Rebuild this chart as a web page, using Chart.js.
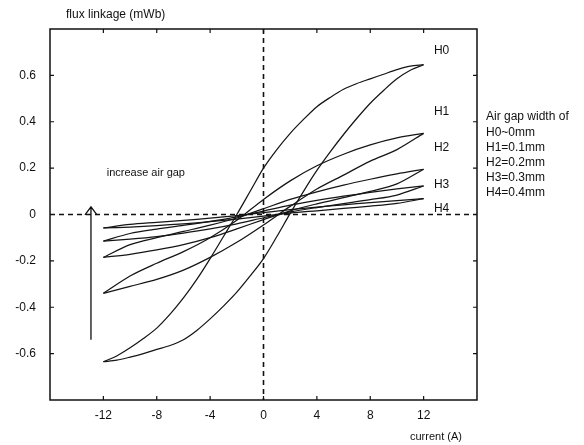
<!DOCTYPE html>
<html lang="en">
<head>
    <meta charset="UTF-8">
    <title>Flux linkage vs current</title>
    <script src="https://cdn.jsdelivr.net/npm/chart.js"></script>
    <style>
        body { margin: 0; background: #fff; }
        #wrap { width: 584px; height: 445px; }
    </style>
</head>
<body>
    <div id="wrap"><canvas id="loops"></canvas></div>

    <script>
        // current (A) grid for H0 (finer) and for the other loops
        const currentH0 = [-12, -11, -10, -9, -8, -7, -6, -5, -4, -3, -2, -1, 0, 1, 2, 3, 4, 5, 6, 7, 8, 9, 10, 11, 12];
        const current = [-12, -10, -8, -6, -4, -2, 0, 2, 4, 6, 8, 10, 12];

        // flux linkage (mWb), rising = current going up, falling = current going down
        const h0Rising = [-0.635, -0.628, -0.615, -0.6, -0.582, -0.565, -0.54, -0.5, -0.45, -0.395, -0.335, -0.265, -0.19, -0.095, 0.005, 0.1, 0.19, 0.27, 0.345, 0.415, 0.48, 0.535, 0.585, 0.622, 0.646];
        const h0Falling = [-0.635, -0.61, -0.575, -0.535, -0.49, -0.43, -0.36, -0.28, -0.19, -0.095, 0.0, 0.1, 0.2, 0.28, 0.35, 0.41, 0.465, 0.505, 0.54, 0.565, 0.585, 0.605, 0.625, 0.64, 0.646];

        const h1Rising = [-0.34, -0.31, -0.28, -0.24, -0.185, -0.12, -0.045, 0.035, 0.11, 0.17, 0.23, 0.28, 0.35];
        const h1Falling = [-0.34, -0.265, -0.21, -0.16, -0.1, -0.025, 0.065, 0.145, 0.21, 0.26, 0.3, 0.33, 0.35];

        const h2Rising = [-0.185, -0.172, -0.153, -0.13, -0.1, -0.062, -0.022, 0.016, 0.046, 0.073, 0.1, 0.132, 0.195];
        const h2Falling = [-0.185, -0.13, -0.1, -0.073, -0.046, -0.015, 0.025, 0.065, 0.098, 0.127, 0.152, 0.175, 0.195];

        const h3Rising = [-0.115, -0.106, -0.095, -0.08, -0.062, -0.04, -0.014, 0.011, 0.03, 0.047, 0.064, 0.084, 0.123];
        const h3Falling = [-0.115, -0.082, -0.063, -0.047, -0.03, -0.01, 0.015, 0.04, 0.061, 0.079, 0.095, 0.11, 0.123];

        const h4Rising = [-0.058, -0.054, -0.048, -0.04, -0.031, -0.02, -0.007, 0.006, 0.016, 0.026, 0.036, 0.048, 0.068];
        const h4Falling = [-0.058, -0.043, -0.034, -0.025, -0.016, -0.005, 0.008, 0.021, 0.032, 0.042, 0.051, 0.06, 0.068];

        // axis ticks
        const xTicks = [-12, -8, -4, 0, 4, 8, 12];
        const yTicks = [-0.6, -0.4, -0.2, 0, 0.2, 0.4, 0.6];

        // texts
        const loopNames = ['H0', 'H1', 'H2', 'H3', 'H4'];
        const gapLines = ['Air gap width of', 'H0~0mm', 'H1=0.1mm', 'H2=0.2mm', 'H3=0.3mm', 'H4=0.4mm'];

        function toPoints(xs, ys) {
            return xs.map((x, i) => ({ x: x, y: ys[i] }));
        }

        function branch(xs, ys) {
            return {
                data: toPoints(xs, ys),
                showLine: true,
                borderColor: '#151515',
                borderWidth: 1.25,
                pointRadius: 0,
                tension: 0.3,
                fill: false
            };
        }

        const datasets = [
            branch(currentH0, h0Rising), branch(currentH0, h0Falling),
            branch(current, h1Rising), branch(current, h1Falling),
            branch(current, h2Rising), branch(current, h2Falling),
            branch(current, h3Rising), branch(current, h3Falling),
            branch(current, h4Rising), branch(current, h4Falling)
        ];

        // frame, dashed axes, inward ticks and all the free text
        const extras = {
            id: 'extras',
            afterDraw(chart) {
                const ctx = chart.ctx;
                const a = chart.chartArea;
                const sx = chart.scales.x;
                const sy = chart.scales.y;
                ctx.save();
                ctx.strokeStyle = '#111';
                ctx.fillStyle = '#111';

                // dashed zero lines
                ctx.lineWidth = 1.6;
                ctx.setLineDash([5, 4]);
                const x0 = sx.getPixelForValue(0);
                const y0 = sy.getPixelForValue(0);
                ctx.beginPath();
                ctx.moveTo(x0, a.top);
                ctx.lineTo(x0, a.bottom);
                ctx.moveTo(a.left, y0);
                ctx.lineTo(a.right, y0);
                ctx.stroke();
                ctx.setLineDash([]);

                // frame
                ctx.lineWidth = 1.5;
                ctx.strokeRect(a.left, a.top, a.right - a.left, a.bottom - a.top);

                // inward tick marks
                ctx.lineWidth = 1.2;
                ctx.beginPath();
                xTicks.forEach(v => {
                    const px = sx.getPixelForValue(v);
                    ctx.moveTo(px, a.bottom); ctx.lineTo(px, a.bottom - 4);
                    ctx.moveTo(px, a.top); ctx.lineTo(px, a.top + 4);
                });
                yTicks.forEach(v => {
                    const py = sy.getPixelForValue(v);
                    ctx.moveTo(a.left, py); ctx.lineTo(a.left + 4, py);
                    ctx.moveTo(a.right, py); ctx.lineTo(a.right - 4, py);
                });
                ctx.stroke();

                // arrow "increase air gap"
                const ax = sx.getPixelForValue(-12.93);
                const ayTop = sy.getPixelForValue(0.033);
                const ayBot = sy.getPixelForValue(-0.54);
                ctx.lineWidth = 1.3;
                ctx.beginPath();
                ctx.moveTo(ax, ayBot);
                ctx.lineTo(ax, ayTop);
                ctx.moveTo(ax - 6, ayTop + 8);
                ctx.lineTo(ax, ayTop);
                ctx.lineTo(ax + 6, ayTop + 8);
                ctx.stroke();

                // axis titles
                ctx.textBaseline = 'middle';
                ctx.textAlign = 'left';
                ctx.font = '12px "Liberation Sans", Arial, sans-serif';
                ctx.fillText('flux linkage (mWb)', 66, 15);
                ctx.font = '11px "Liberation Sans", Arial, sans-serif';
                ctx.fillText('current (A)', 410, 437);
                ctx.fillText('increase air gap', sx.getPixelForValue(-11.75), sy.getPixelForValue(0.177));

                // loop names next to the right tips
                ctx.font = '12px "Liberation Sans", Arial, sans-serif';
                const nameY = [0.705, 0.445, 0.286, 0.13, 0.026];
                loopNames.forEach((t, i) => {
                    ctx.fillText(t, sx.getPixelForValue(12.77), sy.getPixelForValue(nameY[i]));
                });

                // air gap key at the right
                gapLines.forEach((t, i) => {
                    ctx.fillText(t, 486, 117 + i * 15.2);
                });
                ctx.restore();
            }
        };

        new Chart(document.getElementById('loops'), {
            type: 'scatter',
            data: { datasets: datasets },
            options: {
                responsive: true,
                maintainAspectRatio: false,
                animation: false,
                layout: { padding: { top: 29, right: 107, bottom: 0, left: 0 } },
                plugins: {
                    legend: { display: false },
                    tooltip: { enabled: false }
                },
                scales: {
                    x: {
                        type: 'linear',
                        min: -16,
                        max: 16,
                        afterFit: s => { s.height = 45; },
                        grid: { display: false, drawTicks: false },
                        border: { display: false },
                        ticks: {
                            stepSize: 4,
                            padding: 8,
                            color: '#111',
                            font: { family: '"Liberation Sans", Arial, sans-serif', size: 12 },
                            maxRotation: 0,
                            callback: v => xTicks.includes(v) ? String(v) : ''
                        }
                    },
                    y: {
                        type: 'linear',
                        min: -0.8,
                        max: 0.8,
                        afterFit: s => { s.width = 50; },
                        grid: { display: false, drawTicks: false },
                        border: { display: false },
                        ticks: {
                            stepSize: 0.2,
                            padding: 14,
                            color: '#111',
                            font: { family: '"Liberation Sans", Arial, sans-serif', size: 12 },
                            callback: v => {
                                if (Math.abs(v) > 0.7) return '';
                                if (Math.abs(v) < 1e-9) return '0';
                                return v.toFixed(1);
                            }
                        }
                    }
                }
            },
            plugins: [extras]
        });
    </script>
</body>
</html>
